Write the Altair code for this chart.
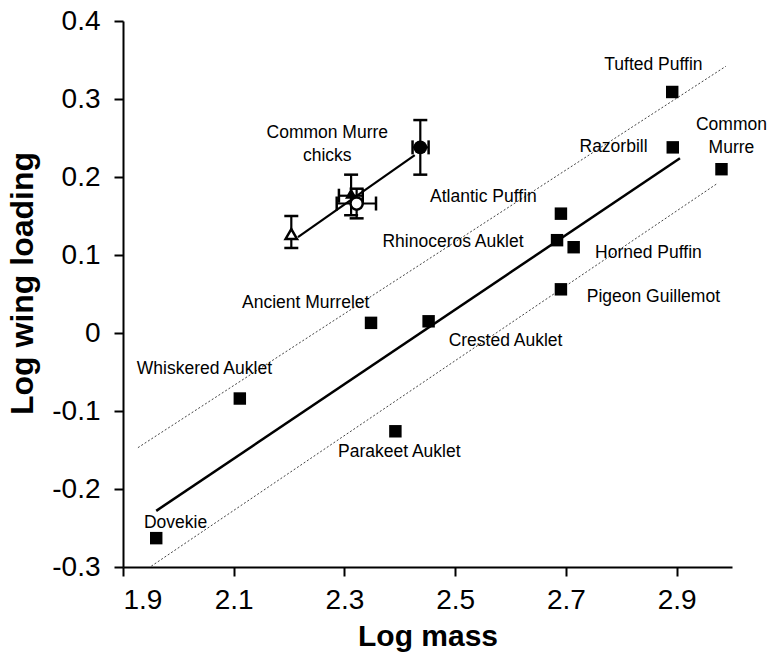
import altair as alt
import pandas as pd

# ---------------- data ----------------
species = ["Dovekie", "Whiskered Auklet", "Ancient Murrelet", "Crested Auklet",
           "Parakeet Auklet", "Tufted Puffin", "Razorbill", "Common Murre",
           "Atlantic Puffin", "Rhinoceros Auklet", "Horned Puffin", "Pigeon Guillemot"]
log_mass = [1.960, 2.111, 2.348, 2.452, 2.392, 2.892, 2.893, 2.981, 2.691, 2.684, 2.714, 2.691]
log_wing_loading = [-0.263, -0.084, 0.013, 0.015, -0.126, 0.309, 0.238, 0.210,
                    0.153, 0.119, 0.110, 0.056]

# annotation texts and their anchor positions (data units, first line)
label_text = ["Dovekie", "Whiskered Auklet", "Ancient Murrelet", "Crested Auklet",
              "Parakeet Auklet", "Tufted Puffin", "Razorbill", "Common\nMurre",
              "Atlantic Puffin", "Rhinoceros Auklet", "Horned Puffin", "Pigeon Guillemot",
              "Common Murre\nchicks"]
label_x = [1.995, 2.047, 2.230, 2.591, 2.399, 2.858, 2.786, 2.999,
           2.551, 2.496, 2.849, 2.858, 2.269]
label_y = [-0.243, -0.046, 0.038, -0.010, -0.153, 0.343, 0.238, 0.267,
           0.175, 0.117, 0.102, 0.046, 0.256]

# adult regression line and its dotted bounds
fit_x = [1.960, 2.906]
fit_y = [-0.228, 0.224]
upper_x = [1.927, 2.989]
upper_y = [-0.147, 0.342]
lower_x = [1.951, 2.974]
lower_y = [-0.299, 0.192]

# Common Murre chicks
chick_marker = ["open triangle", "filled triangle", "open circle", "filled circle"]
chick_mass = [2.204, 2.312, 2.322, 2.437]
chick_wl = [0.127, 0.179, 0.166, 0.238]
chick_wl_lo = [0.109, 0.151, 0.147, 0.203]
chick_wl_hi = [0.150, 0.203, 0.185, 0.273]
chick_hmarker = ["filled triangle", "open circle", "filled circle"]
chick_hmass_lo = [2.290, 2.286, 2.423]
chick_hmass_hi = [2.333, 2.357, 2.452]
chick_hwl = [0.176, 0.166, 0.238]
chick_fit_x = [2.216, 2.427]
chick_fit_y = [0.123, 0.228]

x_ticks = [1.9, 2.1, 2.3, 2.5, 2.7, 2.9]
y_ticks = [-0.3, -0.2, -0.1, 0, 0.1, 0.2, 0.3, 0.4]

# ---------------- tables ----------------
pts = pd.DataFrame({"species": species, "x": log_mass, "y": log_wing_loading})
labels = pd.DataFrame({"text": label_text, "x": label_x, "y": label_y})
fit = pd.DataFrame({"x": fit_x, "y": fit_y})
bounds = pd.DataFrame({
    "x": upper_x + lower_x,
    "y": upper_y + lower_y,
    "band": ["upper"] * len(upper_x) + ["lower"] * len(lower_x),
})
chicks = pd.DataFrame({"marker": chick_marker, "x": chick_mass, "y": chick_wl,
                       "ylo": chick_wl_lo, "yhi": chick_wl_hi})
hbars = pd.DataFrame({"marker": chick_hmarker, "x": chick_hmass_lo,
                      "x2": chick_hmass_hi, "y": chick_hwl})
chick_fit = pd.DataFrame({"x": chick_fit_x, "y": chick_fit_y})

FONT = "Liberation Sans"
xscale = alt.Scale(domain=[1.9, 3.0], nice=False, zero=False)
yscale = alt.Scale(domain=[-0.3, 0.4], nice=False, zero=False)
xaxis = alt.Axis(values=x_ticks, labelExpr="'' + datum.value", title="Log mass")
yaxis = alt.Axis(values=y_ticks, labelExpr="'' + datum.value", title="Log wing loading",
                 titleY=262)


def X(field="x"):
    return alt.X(f"{field}:Q", scale=xscale, axis=xaxis, title="Log mass")


def Y(field="y"):
    return alt.Y(f"{field}:Q", scale=yscale, axis=yaxis, title="Log wing loading")


bound_layer = alt.Chart(bounds).mark_line(
    color="#444444", strokeWidth=1, strokeDash=[2, 2]
).encode(x=X(), y=Y(), detail="band:N")

fit_layer = alt.Chart(fit).mark_line(color="black", strokeWidth=2.5).encode(x=X(), y=Y())

chick_fit_layer = alt.Chart(chick_fit).mark_line(color="black", strokeWidth=2.2).encode(x=X(), y=Y())

square_layer = alt.Chart(pts).mark_point(
    shape="square", filled=True, color="black", size=155, opacity=1
).encode(x=X(), y=Y())

vbar_layer = alt.Chart(chicks).mark_rule(color="black", strokeWidth=2.2).encode(
    x=X(), y=Y("ylo"), y2="yhi:Q")
vcap_lo = alt.Chart(chicks).mark_tick(color="black", orient="horizontal", size=14,
                                      thickness=2.5, opacity=1).encode(x=X(), y=Y("ylo"))
vcap_hi = alt.Chart(chicks).mark_tick(color="black", orient="horizontal", size=14,
                                      thickness=2.5, opacity=1).encode(x=X(), y=Y("yhi"))

hbar_layer = alt.Chart(hbars).mark_rule(color="black", strokeWidth=2.2).encode(
    x=X(), x2="x2:Q", y=Y())
hcap_lo = alt.Chart(hbars).mark_tick(color="black", orient="vertical", size=14,
                                     thickness=2.5, opacity=1).encode(x=X(), y=Y())
hcap_hi = alt.Chart(hbars).mark_tick(color="black", orient="vertical", size=14,
                                     thickness=2.5, opacity=1).encode(x=X("x2"), y=Y())


def chick_marker_layer(name, shape, filled, size):
    base = alt.Chart(chicks).transform_filter(alt.datum.marker == name)
    if filled:
        mark = base.mark_point(shape=shape, filled=True, color="black", size=size, opacity=1)
    else:
        mark = base.mark_point(shape=shape, filled=True, fill="white", stroke="black",
                               strokeWidth=2.5, size=size, opacity=1)
    return mark.encode(x=X(), y=Y())


m1 = chick_marker_layer("filled triangle", "triangle-up", True, 150)
m2 = chick_marker_layer("open circle", "circle", False, 150)
m3 = chick_marker_layer("open triangle", "triangle-up", False, 130)
m4 = chick_marker_layer("filled circle", "circle", True, 190)

text_layer = alt.Chart(labels).mark_text(
    font=FONT, fontSize=17.5, color="black", align="center", baseline="middle",
    lineBreak="\n", lineHeight=23
).encode(x=X(), y=Y(), text="text:N")

chart = alt.layer(
    bound_layer, fit_layer, chick_fit_layer, square_layer,
    vbar_layer, vcap_lo, vcap_hi, hbar_layer, hcap_lo, hcap_hi,
    m1, m2, m3, m4, text_layer
).properties(
    width=609, height=546,
    autosize=alt.AutoSizeParams(type="none"),
    padding={"left": 123, "top": 21, "right": 36, "bottom": 93},
    background="white",
).configure_view(stroke=None).configure_axis(
    grid=False,
    domainColor="black", domainWidth=2,
    tickColor="black", tickWidth=2, tickSize=9,
    labelFont=FONT, labelFontSize=28, labelColor="black",
    titleFont=FONT, titleFontSize=30, titleFontWeight="bold", titleColor="black",
).configure_axisY(labelPadding=14, titlePadding=12, titleFontSize=32).configure_axisX(
    labelPadding=10, titlePadding=7)

chart.save("out.html", embed_options={"renderer": "svg", "actions": False})
